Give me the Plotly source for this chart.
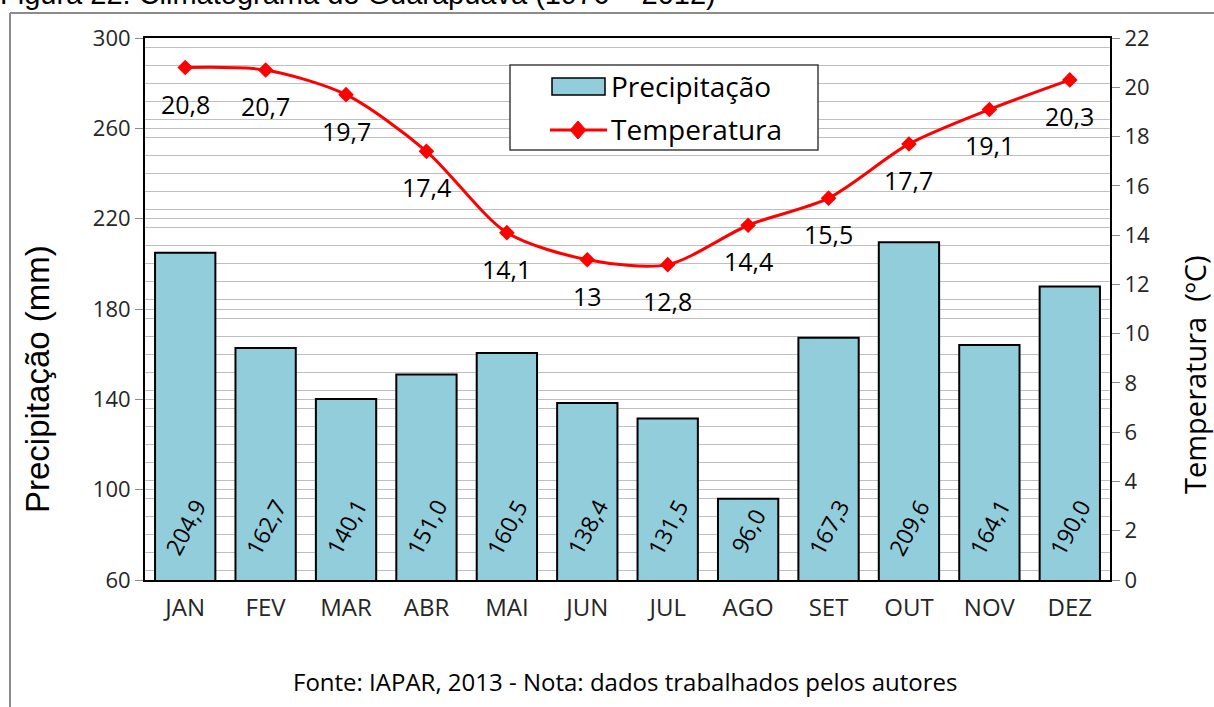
import plotly.graph_objects as go

months = ["JAN", "FEV", "MAR", "ABR", "MAI", "JUN", "JUL", "AGO", "SET", "OUT", "NOV", "DEZ"]
precip = [204.9, 162.7, 140.1, 151.0, 160.5, 138.4, 131.5, 96.0, 167.3, 209.6, 164.1, 190.0]
temp = [20.8, 20.7, 19.7, 17.4, 14.1, 13, 12.8, 14.4, 15.5, 17.7, 19.1, 20.3]
precip_labels = ["204,9", "162,7", "140,1", "151,0", "160,5", "138,4", "131,5", "96,0", "167,3", "209,6", "164,1", "190,0"]
temp_labels = ["20,8", "20,7", "19,7", "17,4", "14,1", "13", "12,8", "14,4", "15,5", "17,7", "19,1", "20,3"]

W, H = 1214, 707
L, R, T, B = 145, 104, 38, 127
pw, ph = W - L - R, H - T - B

def px_x(x):
    return (x - L) / pw

def px_y(y):
    return 1 - (y - T) / ph

SANS = "Open Sans, Lato, sans-serif"
ARIAL = "Liberation Sans, Arial, sans-serif"
TICKFONT = dict(family=SANS, size=22, color="#262626")

fig = go.Figure()
fig.add_trace(go.Bar(
    x=months, y=precip, name="Precipitação",
    marker=dict(color="#92CDDC", line=dict(color="#000000", width=2)),
    yaxis="y", showlegend=False,
))
fig.add_trace(go.Scatter(
    x=months, y=temp, name="Temperatura", mode="lines+markers",
    line=dict(color="#FF0000", width=3, shape="spline", smoothing=0.8),
    marker=dict(symbol="diamond", size=12, color="#FF0000"),
    yaxis="y2", showlegend=False,
))

annotations = []
for m, lab in zip(months, precip_labels):
    annotations.append(dict(
        x=m, y=83.5 if len(lab) > 4 else 81.5, xref="x", yref="y", text=lab,
        showarrow=False, textangle=-62,
        font=dict(family=SANS, size=23, color="#000000"),
    ))
for m, t, lab in zip(months, temp, temp_labels):
    annotations.append(dict(
        x=m, y=t, xref="x", yref="y2", text=lab, showarrow=False,
        yshift=-36,
        font=dict(family=SANS, size=25, color="#000000"),
    ))
annotations.append(dict(
    x=px_x(-2), y=px_y(-6), xref="paper", yref="paper", xanchor="left", yanchor="middle",
    text="Figura 22: Climatograma de Guarapuava (1976 – 2012)", showarrow=False,
    font=dict(family=ARIAL, size=29, color="#000000"),
))
annotations.append(dict(
    x=px_x(625), y=px_y(682), xref="paper", yref="paper", xanchor="center", yanchor="middle",
    text="Fonte: IAPAR, 2013 - Nota: dados trabalhados pelos autores", showarrow=False,
    font=dict(family=SANS, size=24, color="#000000"),
))
# axis titles
annotations.append(dict(
    x=px_x(37), y=px_y(379), xref="paper", yref="paper", xanchor="center", yanchor="middle",
    text="Precipitação (mm)", showarrow=False, textangle=-90,
    font=dict(family=ARIAL, size=33, color="#000000"),
))
annotations.append(dict(
    x=px_x(1194), y=px_y(375), xref="paper", yref="paper", xanchor="center", yanchor="middle",
    text="Temperatura  (ºC)", showarrow=False, textangle=-90,
    font=dict(family=SANS, size=29, color="#000000"),
))
# legend texts
annotations.append(dict(
    x=px_x(609), y=px_y(86), xref="paper", yref="paper", xanchor="left", yanchor="middle",
    text="Precipitação", showarrow=False, font=dict(family=SANS, size=28, color="#000000"),
))
annotations.append(dict(
    x=px_x(609), y=px_y(129), xref="paper", yref="paper", xanchor="left", yanchor="middle",
    text="Temperatura", showarrow=False, font=dict(family=SANS, size=28, color="#000000"),
))

shapes = [
    dict(type="line", xref="paper", yref="paper", x0=px_x(10), x1=px_x(10), y0=px_y(13), y1=px_y(760),
         line=dict(color="#8c8c8c", width=2)),
    dict(type="line", xref="paper", yref="paper", x0=px_x(10), x1=px_x(1260), y0=px_y(13), y1=px_y(13),
         line=dict(color="#8c8c8c", width=2)),
    # legend box
    dict(type="rect", xref="paper", yref="paper", x0=px_x(510), x1=px_x(818), y0=px_y(150), y1=px_y(65),
         fillcolor="white", line=dict(color="#404040", width=1.5), layer="above"),
    dict(type="rect", xref="paper", yref="paper", x0=px_x(552), x1=px_x(605), y0=px_y(95), y1=px_y(78),
         fillcolor="#92CDDC", line=dict(color="#000000", width=1.5), layer="above"),
    dict(type="line", xref="paper", yref="paper", x0=px_x(550), x1=px_x(607), y0=px_y(130), y1=px_y(130),
         line=dict(color="#FF0000", width=3), layer="above"),
    dict(type="path", xref="paper", yref="paper",
         path="M {a},{b} L {c},{d} L {a},{e} L {f},{d} Z".format(
             a=px_x(578), b=px_y(121), c=px_x(586), d=px_y(130), e=px_y(139), f=px_x(570)),
         fillcolor="#FF0000", line=dict(color="#FF0000", width=1), layer="above"),
]

fig.update_layout(
    width=W, height=H,
    margin=dict(l=L, r=R, t=T, b=B),
    paper_bgcolor="white", plot_bgcolor="white",
    bargap=0.25,
    showlegend=False,
    xaxis=dict(
        type="category", range=[-0.5, len(months) - 0.5], showgrid=False, showline=True,
        linecolor="#000000", linewidth=2,
        mirror=True, tickfont=dict(family=SANS, size=24, color="#262626"), ticks="",
        ticklabelstandoff=5, automargin=False,
    ),
    yaxis=dict(
        range=[60, 300], tick0=60, dtick=40, showgrid=True, gridcolor="#BFBFBF", gridwidth=1,
        minor=dict(dtick=8, showgrid=True, gridcolor="#BFBFBF", gridwidth=1),
        showline=True, linecolor="#000000", linewidth=2, ticks="outside", ticklen=8,
        tickcolor="#8c8c8c", tickfont=TICKFONT, zeroline=False, automargin=False,
    ),
    yaxis2=dict(
        range=[0, 22], dtick=2, overlaying="y", side="right", showgrid=False,
        showline=True, linecolor="#000000", linewidth=2, ticks="outside", ticklen=8,
        tickcolor="#8c8c8c", tickfont=TICKFONT, zeroline=False, automargin=False,
    ),
    annotations=annotations,
    shapes=shapes,
)

fig.write_html("out.html", config={"displayModeBar": False},
               post_script="document.body.style.margin='0px';")
